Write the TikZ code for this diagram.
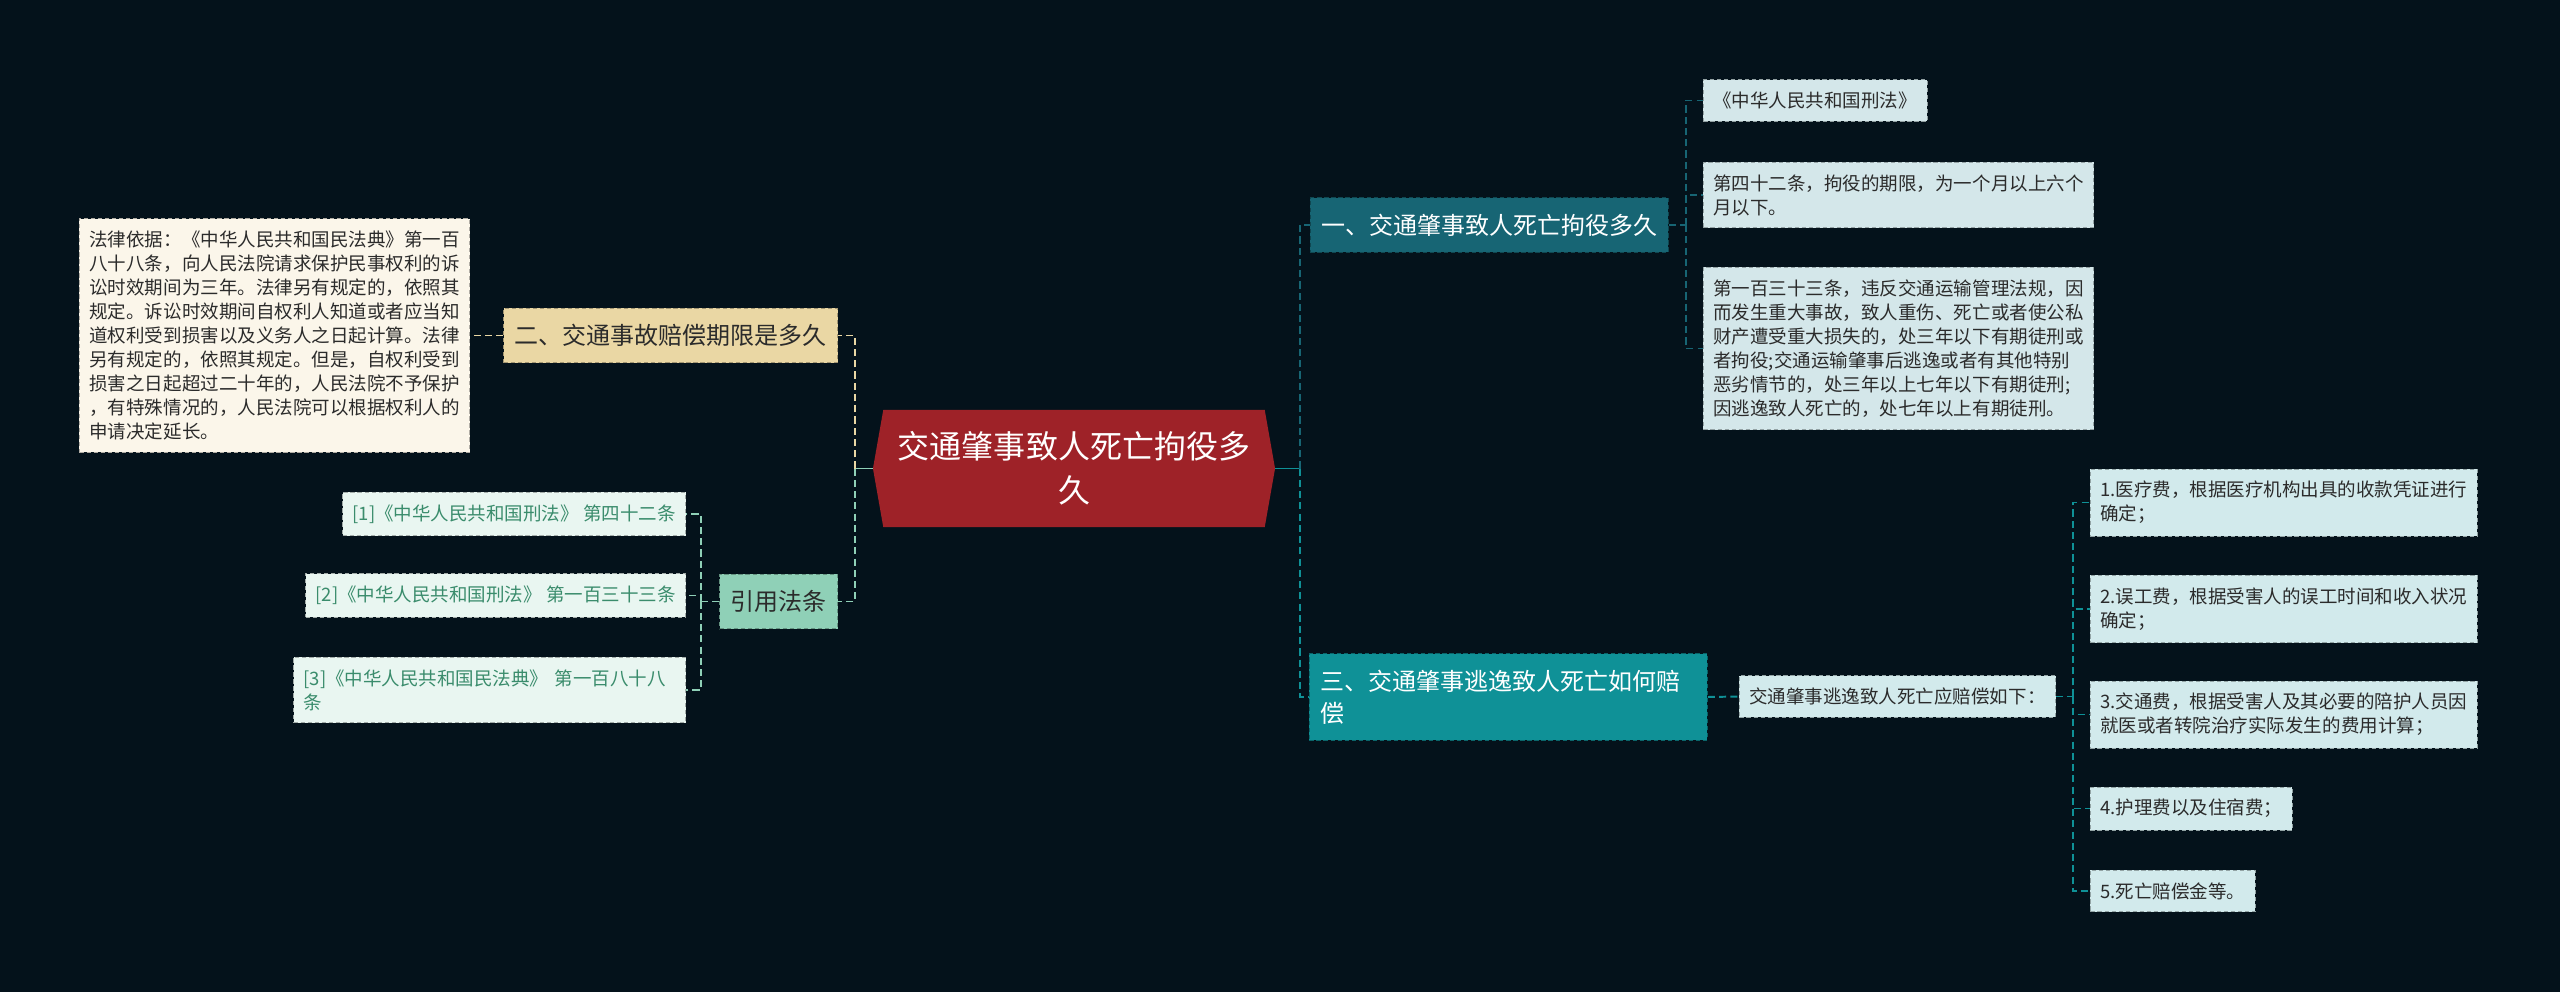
\documentclass[tikz,border=0pt]{standalone}
\usepackage{fontspec}
\newfontfamily\cjk{Noto Sans CJK SC}
\usetikzlibrary{shapes.symbols}
\definecolor{bgdark}{HTML}{04121B}
\definecolor{rootred}{HTML}{9E2228}
\definecolor{deepteal}{HTML}{176574}
\definecolor{brightteal}{HTML}{0F9197}
\definecolor{sand}{HTML}{EAD7A4}
\definecolor{cream}{HTML}{FBF6EA}
\definecolor{mint}{HTML}{8FD0B7}
\definecolor{mintpale}{HTML}{E9F6F1}
\definecolor{citegreen}{HTML}{3A8C6C}
\definecolor{frost}{HTML}{D4E7EA}
\definecolor{frostcyan}{HTML}{D2EAEC}
\definecolor{inktext}{HTML}{2B2B2B}
\tikzset{
  box/.style={shape=rectangle, draw=#1!70!black, fill=#1, dash pattern=on 3pt off 2pt, line width=0.6pt, align=left},
  leaf/.style={box=#1, inner xsep=7.1pt, inner ysep=8.7pt, text=inktext, font=\cjk\fontsize{13.16}{17.07}\selectfont},
  topic/.style={box=#1, inner xsep=7.8pt, inner ysep=11.4pt, font=\cjk\fontsize{17.07}{22.76}\selectfont},
  link/.style={line width=1.4pt, dash pattern=on 5pt off 3pt},
  stem/.style={line width=1.4pt},
}
\begin{document}
\begin{tikzpicture}[x=0.025cm, y=-0.025cm]
\fill[bgdark] (0,0) rectangle (2560,992);
\useasboundingbox (0,0) rectangle (2560,992);

\node[shape=signal, signal to=east and west, signal pointer angle=160, fill=rootred, text=white, align=center, inner sep=0pt, minimum width=10.05cm, minimum height=2.925cm, font=\cjk\fontsize{22.76}{31.3}\selectfont] (root) at (1074,468.5) {交通肇事致人死亡拘役多\\久};

\node[topic=sand, text=inktext, anchor=east] (t2) at (838,335.5) {二、交通事故赔偿期限是多久};
\node[leaf=cream, anchor=east] (law) at (470,335.5) {法律依据：《中华人民共和国民法典》第一百\\八十八条，向人民法院请求保护民事权利的诉\\讼时效期间为三年。法律另有规定的，依照其\\规定。诉讼时效期间自权利人知道或者应当知\\道权利受到损害以及义务人之日起计算。法律\\另有规定的，依照其规定。但是，自权利受到\\损害之日起超过二十年的，人民法院不予保护\\，有特殊情况的，人民法院可以根据权利人的\\申请决定延长。};

\node[topic=mint, text=inktext, anchor=east] (cite) at (838,601.5) {引用法条};
\node[leaf=mintpale, text=citegreen, anchor=east] (r1) at (686,514) {[1]《中华人民共和国刑法》 第四十二条};
\node[leaf=mintpale, text=citegreen, anchor=east] (r2) at (686,595.5) {[2]《中华人民共和国刑法》 第一百三十三条};
\node[leaf=mintpale, text=citegreen, anchor=east, text width=9.3cm] (r3) at (686,690) {[3]《中华人民共和国民法典》 第一百八十八\\条};

\node[topic=deepteal, text=white, anchor=west] (t1) at (1310,225) {一、交通肇事致人死亡拘役多久};
\node[leaf=frost, anchor=west] (a1) at (1703,100.5) {《中华人民共和国刑法》};
\node[leaf=frost, anchor=west] (a2) at (1703,195) {第四十二条，拘役的期限，为一个月以上六个\\月以下。};
\node[leaf=frost, anchor=west] (a3) at (1703,348.5) {第一百三十三条，违反交通运输管理法规，因\\而发生重大事故，致人重伤、死亡或者使公私\\财产遭受重大损失的，处三年以下有期徒刑或\\者拘役;交通运输肇事后逃逸或者有其他特别\\恶劣情节的，处三年以上七年以下有期徒刑;\\因逃逸致人死亡的，处七年以上有期徒刑。};

\node[topic=brightteal, text=white, anchor=west, text width=9.4cm] (t3) at (1309,697) {三、交通肇事逃逸致人死亡如何赔\\偿};
\node[leaf=frostcyan, anchor=west] (ans) at (1739,696.5) {交通肇事逃逸致人死亡应赔偿如下：};
\node[leaf=frostcyan, anchor=west] (c1) at (2090,502.5) {1.医疗费，根据医疗机构出具的收款凭证进行\\确定；};
\node[leaf=frostcyan, anchor=west] (c2) at (2090,609) {2.误工费，根据受害人的误工时间和收入状况\\确定；};
\node[leaf=frostcyan, anchor=west] (c3) at (2090,714.5) {3.交通费，根据受害人及其必要的陪护人员因\\就医或者转院治疗实际发生的费用计算；};
\node[leaf=frostcyan, anchor=west] (c4) at (2090,808.5) {4.护理费以及住宿费；};
\node[leaf=frostcyan, anchor=west] (c5) at (2090,891) {5.死亡赔偿金等。};

\coordinate (jl) at (855,468.5);
\coordinate (jr) at (1300,468.5);
\coordinate (jcite) at (701,601.5);
\coordinate (jone) at (1686,225);
\coordinate (jpay) at (2073,696.5);

\draw[stem, mint] (root.west) -- (jl);
\draw[link, sand] (jl) |- (t2.east);
\draw[link, mint] (jl) |- (cite.east);
\draw[link, sand] (t2.west) -- (law.east);
\draw[link, mint] (cite.west) -- (jcite);
\draw[link, mint] (jcite) |- (r1.east);
\draw[link, mint] (jcite) |- (r2.east);
\draw[link, mint] (jcite) |- (r3.east);

\draw[stem, brightteal] (root.east) -- (jr);
\draw[link, deepteal] (jr) |- (t1.west);
\draw[link, brightteal] (jr) |- (t3.west);
\draw[link, deepteal] (t1.east) -- (jone);
\draw[link, deepteal] (jone) |- (a1.west);
\draw[link, deepteal] (jone) |- (a2.west);
\draw[link, deepteal] (jone) |- (a3.west);
\draw[link, brightteal] (t3.east) -- (ans.west);
\draw[link, brightteal] (ans.east) -- (jpay);
\draw[link, brightteal] (jpay) |- (c1.west);
\draw[link, brightteal] (jpay) |- (c2.west);
\draw[link, brightteal] (jpay) |- (c3.west);
\draw[link, brightteal] (jpay) |- (c4.west);
\draw[link, brightteal] (jpay) |- (c5.west);
\end{tikzpicture}
\end{document}
